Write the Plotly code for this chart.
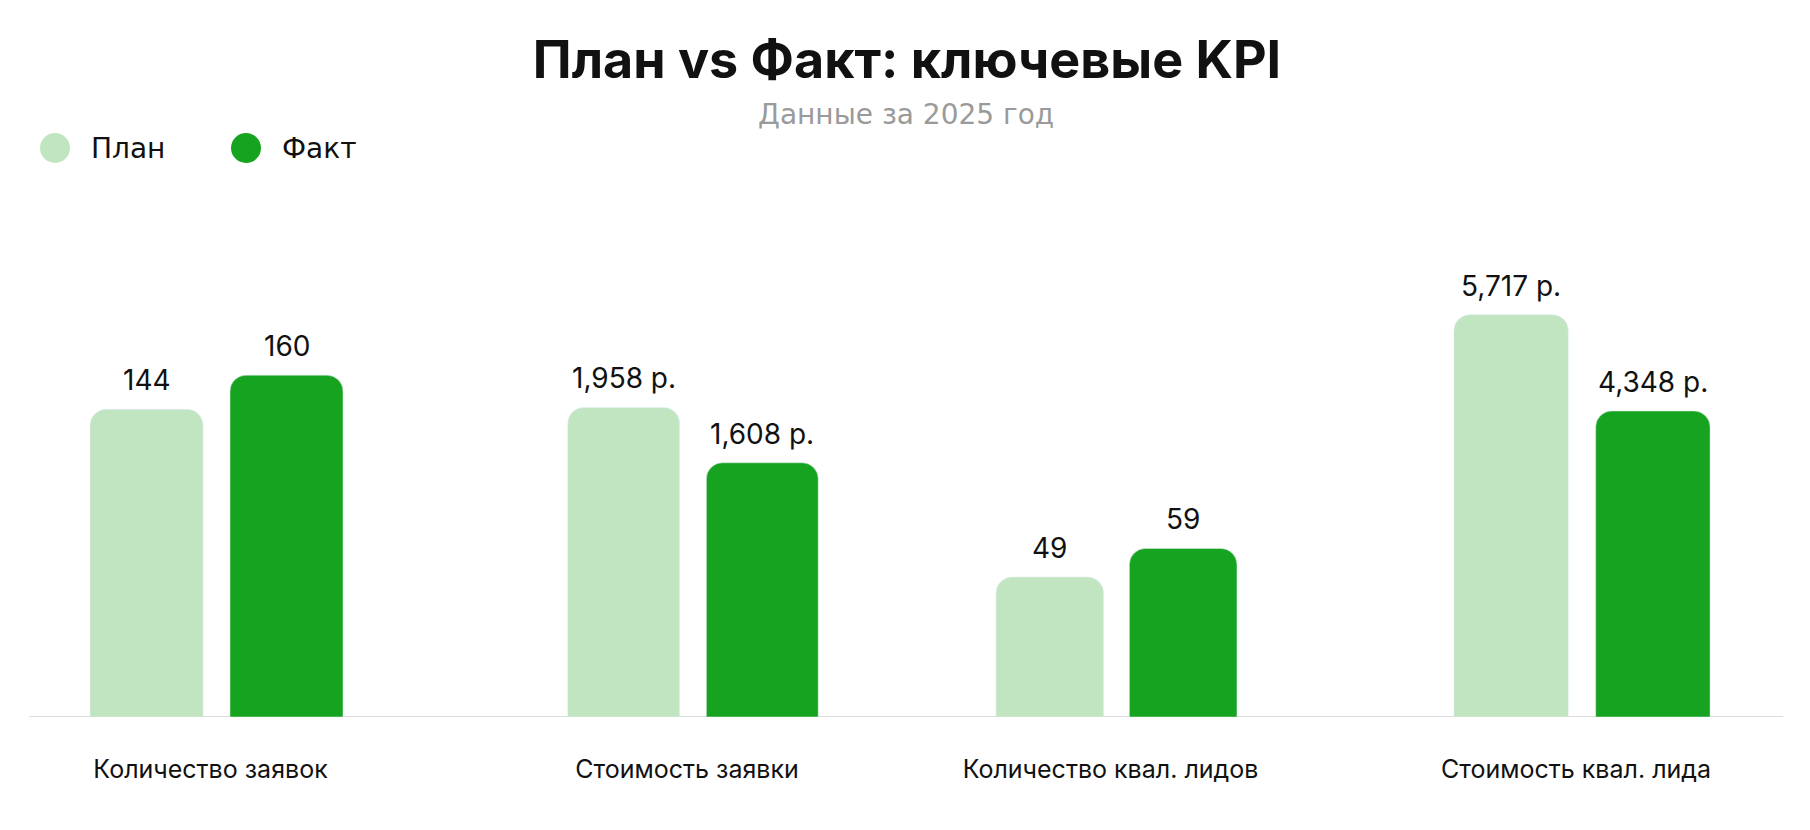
import plotly.graph_objects as go

categories = ["Количество заявок", "Стоимость заявки", "Количество квал. лидов", "Стоимость квал. лида"]
plan_values = [144, 1958, 49, 5717]
fact_values = [160, 1608, 59, 4348]
is_money = [False, True, False, True]
series_names = ["План", "Факт"]

PLAN_COLOR = "#c1e5c1"
FACT_COLOR = "#16a31f"
W, H = 1810, 830
MT, MB = 200, 113
PH = H - MT - MB

# layout of the four panels (pixel centers / widths) and per-panel y ranges
centers = [216.5, 693, 1116.5, 1582]
widths = [400, 396, 381, 405]
yranges = [242, 3270, 181, 7346]
BARGAP = 0.3


def fmt(v, money):
    s = f"{v:,}"
    return s + " р." if money else s


fig = go.Figure()
layout = {}
annotations = []
for i, cat in enumerate(categories):
    n = "" if i == 0 else str(i + 1)
    xa, ya = "x" + n, "y" + n
    fig.add_trace(go.Bar(x=[cat], y=[plan_values[i]], name=series_names[0], marker=dict(color=PLAN_COLOR, cornerradius=16),
                         xaxis=xa, yaxis=ya, showlegend=False, hoverinfo="skip"))
    fig.add_trace(go.Bar(x=[cat], y=[fact_values[i]], name=series_names[1], marker=dict(color=FACT_COLOR, cornerradius=16),
                         xaxis=xa, yaxis=ya, showlegend=False, hoverinfo="skip"))
    d0 = (centers[i] - widths[i] / 2) / W
    d1 = (centers[i] + widths[i] / 2) / W
    layout["xaxis" + n] = dict(domain=[d0, d1], anchor=ya, showgrid=False, zeroline=False, showline=False,
                               ticks="", ticklabelstandoff=35, ticklabelshift=-6,
                               tickfont=dict(family="Inter", size=25, color="#111111"), fixedrange=True)
    layout["yaxis" + n] = dict(domain=[0, 1], anchor=xa, range=[0, yranges[i]], visible=False, fixedrange=True)
    shift = widths[i] * (1 - BARGAP) / 4
    for v, sx in ((plan_values[i], -shift), (fact_values[i], shift)):
        annotations.append(dict(x=cat, y=v, xref=xa, yref=ya, text=fmt(v, is_money[i]), showarrow=False,
                                xshift=sx, yshift=10, yanchor="bottom",
                                font=dict(family="Inter", size=28, color="#111111")))

# subtitle
annotations.append(dict(x=906 / W, y=(H - MB - 114) / PH, xref="paper", yref="paper", text="Данные за 2025 год",
                        showarrow=False, xanchor="center", yanchor="middle",
                        font=dict(family="DejaVu Sans", size=28, color="#9a9a9a")))

# custom legend
shapes = []
legend_items = [(55, 89, PLAN_COLOR, series_names[0]), (246, 280, FACT_COLOR, series_names[1])]
for cx, tx, col, name in legend_items:
    cy = 148
    r = 15
    shapes.append(dict(type="circle", xref="paper", yref="paper",
                       x0=(cx - r) / W, x1=(cx + r) / W,
                       y0=(H - MB - cy - r) / PH, y1=(H - MB - cy + r) / PH,
                       fillcolor=col, line=dict(width=0)))
    annotations.append(dict(x=tx / W, y=(H - MB - cy) / PH, xref="paper", yref="paper", text=name, showarrow=False,
                            xanchor="left", yanchor="middle", font=dict(family="DejaVu Sans", size=28, color="#111111")))

# baseline
shapes.append(dict(type="line", xref="paper", yref="y", x0=29 / W, x1=1783 / W, y0=0, y1=0,
                   line=dict(color="#dcdcdc", width=2), layer="below"))

fig.update_layout(
    width=W, height=H,
    margin=dict(l=0, r=0, t=MT, b=MB),
    paper_bgcolor="#ffffff", plot_bgcolor="rgba(0,0,0,0)",
    barmode="group", bargap=BARGAP, bargroupgap=0.193,
    title=dict(text="<b>План vs Факт: ключевые KPI</b>", x=907 / W, xanchor="center", y=1 - 60 / H, yanchor="middle",
               font=dict(family="Inter", size=52, color="#111111")),
    showlegend=False,
    annotations=annotations,
    shapes=shapes,
    **layout,
)

fig.write_html("out.html")
